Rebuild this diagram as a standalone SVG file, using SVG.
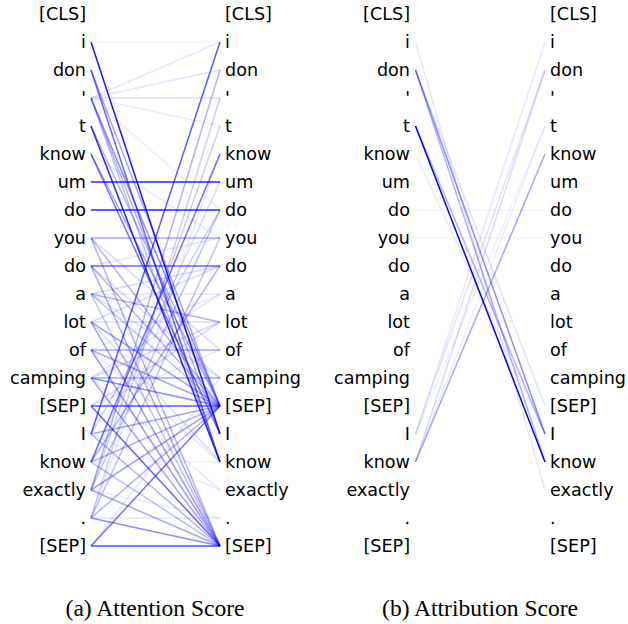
<svg xmlns="http://www.w3.org/2000/svg" width="628" height="624" viewBox="0 0 628 624">
<style>
text.t{font-family:"DejaVu Sans","Noto Sans",sans-serif;font-size:17.6px;fill:#000}
.e{text-anchor:end}
.cap{font-family:"Liberation Serif","Times New Roman",serif;font-size:23.5px;fill:#000;text-anchor:middle}
line{stroke:#0000ff;stroke-width:1.5}
</style>
<rect width="628" height="624" fill="#fff"/>
<g id="connectors-attention">
<line x1="91" y1="42" x2="220" y2="42" stroke-opacity="0.04"/>
<line x1="91" y1="98" x2="220" y2="98" stroke-opacity="0.12"/>
<line x1="91" y1="182" x2="220" y2="182" stroke-opacity="0.85"/>
<line x1="91" y1="210" x2="220" y2="210" stroke-opacity="0.85"/>
<line x1="91" y1="238" x2="220" y2="238" stroke-opacity="0.35"/>
<line x1="91" y1="266" x2="220" y2="266" stroke-opacity="0.6"/>
<line x1="91" y1="294" x2="220" y2="294" stroke-opacity="0.1"/>
<line x1="91" y1="322" x2="220" y2="322" stroke-opacity="0.15"/>
<line x1="91" y1="350" x2="220" y2="350" stroke-opacity="0.35"/>
<line x1="91" y1="378" x2="220" y2="378" stroke-opacity="0.35"/>
<line x1="91" y1="406" x2="220" y2="406" stroke-opacity="0.65"/>
<line x1="91" y1="462" x2="220" y2="462" stroke-opacity="0.05"/>
<line x1="91" y1="518" x2="220" y2="518" stroke-opacity="0.1"/>
<line x1="91" y1="546" x2="220" y2="546" stroke-opacity="0.7"/>
<line x1="91" y1="42" x2="220" y2="434" stroke-opacity="0.9"/>
<line x1="91" y1="70" x2="220" y2="462" stroke-opacity="0.6"/>
<line x1="91" y1="70" x2="220" y2="406" stroke-opacity="0.35"/>
<line x1="91" y1="98" x2="220" y2="406" stroke-opacity="0.45"/>
<line x1="91" y1="98" x2="220" y2="434" stroke-opacity="0.3"/>
<line x1="91" y1="98" x2="220" y2="462" stroke-opacity="0.25"/>
<line x1="91" y1="126" x2="220" y2="462" stroke-opacity="0.85"/>
<line x1="91" y1="126" x2="220" y2="406" stroke-opacity="0.3"/>
<line x1="91" y1="154" x2="220" y2="434" stroke-opacity="0.55"/>
<line x1="91" y1="154" x2="220" y2="406" stroke-opacity="0.35"/>
<line x1="91" y1="98" x2="220" y2="126" stroke-opacity="0.08"/>
<line x1="91" y1="98" x2="220" y2="210" stroke-opacity="0.08"/>
<line x1="91" y1="154" x2="220" y2="238" stroke-opacity="0.08"/>
<line x1="91" y1="238" x2="220" y2="406" stroke-opacity="0.3"/>
<line x1="91" y1="238" x2="220" y2="546" stroke-opacity="0.3"/>
<line x1="91" y1="238" x2="220" y2="350" stroke-opacity="0.15"/>
<line x1="91" y1="266" x2="220" y2="406" stroke-opacity="0.3"/>
<line x1="91" y1="266" x2="220" y2="546" stroke-opacity="0.35"/>
<line x1="91" y1="266" x2="220" y2="378" stroke-opacity="0.15"/>
<line x1="91" y1="294" x2="220" y2="322" stroke-opacity="0.3"/>
<line x1="91" y1="294" x2="220" y2="406" stroke-opacity="0.25"/>
<line x1="91" y1="294" x2="220" y2="546" stroke-opacity="0.25"/>
<line x1="91" y1="294" x2="220" y2="378" stroke-opacity="0.12"/>
<line x1="91" y1="322" x2="220" y2="406" stroke-opacity="0.35"/>
<line x1="91" y1="322" x2="220" y2="546" stroke-opacity="0.4"/>
<line x1="91" y1="322" x2="220" y2="462" stroke-opacity="0.15"/>
<line x1="91" y1="350" x2="220" y2="406" stroke-opacity="0.35"/>
<line x1="91" y1="350" x2="220" y2="546" stroke-opacity="0.4"/>
<line x1="91" y1="350" x2="220" y2="462" stroke-opacity="0.1"/>
<line x1="91" y1="378" x2="220" y2="406" stroke-opacity="0.45"/>
<line x1="91" y1="378" x2="220" y2="546" stroke-opacity="0.35"/>
<line x1="91" y1="378" x2="220" y2="490" stroke-opacity="0.1"/>
<line x1="91" y1="406" x2="220" y2="546" stroke-opacity="0.6"/>
<line x1="91" y1="434" x2="220" y2="546" stroke-opacity="0.3"/>
<line x1="91" y1="434" x2="220" y2="490" stroke-opacity="0.08"/>
<line x1="91" y1="462" x2="220" y2="546" stroke-opacity="0.25"/>
<line x1="91" y1="490" x2="220" y2="546" stroke-opacity="0.35"/>
<line x1="91" y1="518" x2="220" y2="546" stroke-opacity="0.45"/>
<line x1="91" y1="490" x2="220" y2="518" stroke-opacity="0.08"/>
<line x1="91" y1="98" x2="220" y2="42" stroke-opacity="0.1"/>
<line x1="91" y1="98" x2="220" y2="70" stroke-opacity="0.1"/>
<line x1="91" y1="434" x2="220" y2="42" stroke-opacity="0.65"/>
<line x1="91" y1="462" x2="220" y2="154" stroke-opacity="0.55"/>
<line x1="91" y1="490" x2="220" y2="70" stroke-opacity="0.3"/>
<line x1="91" y1="490" x2="220" y2="126" stroke-opacity="0.2"/>
<line x1="91" y1="518" x2="220" y2="98" stroke-opacity="0.2"/>
<line x1="91" y1="518" x2="220" y2="238" stroke-opacity="0.25"/>
<line x1="91" y1="546" x2="220" y2="406" stroke-opacity="0.55"/>
<line x1="91" y1="462" x2="220" y2="406" stroke-opacity="0.3"/>
<line x1="91" y1="490" x2="220" y2="406" stroke-opacity="0.35"/>
<line x1="91" y1="518" x2="220" y2="406" stroke-opacity="0.3"/>
<line x1="91" y1="434" x2="220" y2="406" stroke-opacity="0.35"/>
<line x1="91" y1="462" x2="220" y2="266" stroke-opacity="0.3"/>
<line x1="91" y1="490" x2="220" y2="210" stroke-opacity="0.25"/>
<line x1="91" y1="434" x2="220" y2="210" stroke-opacity="0.2"/>
<line x1="91" y1="546" x2="220" y2="378" stroke-opacity="0.1"/>
<line x1="91" y1="378" x2="220" y2="294" stroke-opacity="0.1"/>
<line x1="91" y1="350" x2="220" y2="294" stroke-opacity="0.08"/>
<line x1="91" y1="406" x2="220" y2="350" stroke-opacity="0.1"/>
<line x1="91" y1="406" x2="220" y2="322" stroke-opacity="0.15"/>
<line x1="91" y1="378" x2="220" y2="322" stroke-opacity="0.15"/>
<line x1="91" y1="322" x2="220" y2="266" stroke-opacity="0.15"/>
<line x1="91" y1="294" x2="220" y2="266" stroke-opacity="0.15"/>
<line x1="91" y1="266" x2="220" y2="238" stroke-opacity="0.1"/>
<line x1="91" y1="462" x2="220" y2="182" stroke-opacity="0.15"/>
<line x1="91" y1="518" x2="220" y2="154" stroke-opacity="0.1"/>
</g>
<g id="connectors-attribution">
<line x1="415.5" y1="126" x2="545" y2="462" stroke-opacity="1"/>
<line x1="415.5" y1="126" x2="545" y2="434" stroke-opacity="0.3"/>
<line x1="415.5" y1="70" x2="545" y2="434" stroke-opacity="0.45"/>
<line x1="415.5" y1="70" x2="545" y2="462" stroke-opacity="0.3"/>
<line x1="415.5" y1="70" x2="545" y2="406" stroke-opacity="0.12"/>
<line x1="415.5" y1="42" x2="545" y2="490" stroke-opacity="0.1"/>
<line x1="415.5" y1="154" x2="545" y2="434" stroke-opacity="0.08"/>
<line x1="415.5" y1="210" x2="545" y2="210" stroke-opacity="0.04"/>
<line x1="415.5" y1="238" x2="545" y2="238" stroke-opacity="0.04"/>
<line x1="415.5" y1="434" x2="545" y2="42" stroke-opacity="0.1"/>
<line x1="415.5" y1="434" x2="545" y2="70" stroke-opacity="0.12"/>
<line x1="415.5" y1="462" x2="545" y2="154" stroke-opacity="0.35"/>
<line x1="415.5" y1="462" x2="545" y2="70" stroke-opacity="0.15"/>
<line x1="415.5" y1="462" x2="545" y2="126" stroke-opacity="0.08"/>
<line x1="415.5" y1="434" x2="545" y2="126" stroke-opacity="0.06"/>
</g>
<g id="a-left">
<g id="a-l0"><text class="t e" x="86" y="20">[CLS]</text></g>
<g id="a-l1"><text class="t e" x="86" y="48">i</text></g>
<g id="a-l2"><text class="t e" x="86" y="76">don</text></g>
<g id="a-l3"><text class="t e" x="86" y="104">'</text></g>
<g id="a-l4"><text class="t e" x="86" y="132">t</text></g>
<g id="a-l5"><text class="t e" x="86" y="160">know</text></g>
<g id="a-l6"><text class="t e" x="86" y="188">um</text></g>
<g id="a-l7"><text class="t e" x="86" y="216">do</text></g>
<g id="a-l8"><text class="t e" x="86" y="244">you</text></g>
<g id="a-l9"><text class="t e" x="86" y="272">do</text></g>
<g id="a-l10"><text class="t e" x="86" y="300">a</text></g>
<g id="a-l11"><text class="t e" x="86" y="328">lot</text></g>
<g id="a-l12"><text class="t e" x="86" y="356">of</text></g>
<g id="a-l13"><text class="t e" x="86" y="384">camping</text></g>
<g id="a-l14"><text class="t e" x="86" y="412">[SEP]</text></g>
<g id="a-l15"><text class="t e" x="86" y="440">I</text></g>
<g id="a-l16"><text class="t e" x="86" y="468">know</text></g>
<g id="a-l17"><text class="t e" x="86" y="496">exactly</text></g>
<g id="a-l18"><text class="t e" x="86" y="524">.</text></g>
<g id="a-l19"><text class="t e" x="86" y="552">[SEP]</text></g>
</g>
<g id="a-right">
<g id="a-r0"><text class="t" x="225" y="20">[CLS]</text></g>
<g id="a-r1"><text class="t" x="225" y="48">i</text></g>
<g id="a-r2"><text class="t" x="225" y="76">don</text></g>
<g id="a-r3"><text class="t" x="225" y="104">'</text></g>
<g id="a-r4"><text class="t" x="225" y="132">t</text></g>
<g id="a-r5"><text class="t" x="225" y="160">know</text></g>
<g id="a-r6"><text class="t" x="225" y="188">um</text></g>
<g id="a-r7"><text class="t" x="225" y="216">do</text></g>
<g id="a-r8"><text class="t" x="225" y="244">you</text></g>
<g id="a-r9"><text class="t" x="225" y="272">do</text></g>
<g id="a-r10"><text class="t" x="225" y="300">a</text></g>
<g id="a-r11"><text class="t" x="225" y="328">lot</text></g>
<g id="a-r12"><text class="t" x="225" y="356">of</text></g>
<g id="a-r13"><text class="t" x="225" y="384">camping</text></g>
<g id="a-r14"><text class="t" x="225" y="412">[SEP]</text></g>
<g id="a-r15"><text class="t" x="225" y="440">I</text></g>
<g id="a-r16"><text class="t" x="225" y="468">know</text></g>
<g id="a-r17"><text class="t" x="225" y="496">exactly</text></g>
<g id="a-r18"><text class="t" x="225" y="524">.</text></g>
<g id="a-r19"><text class="t" x="225" y="552">[SEP]</text></g>
</g>
<g id="b-left">
<g id="b-l0"><text class="t e" x="410" y="20">[CLS]</text></g>
<g id="b-l1"><text class="t e" x="410" y="48">i</text></g>
<g id="b-l2"><text class="t e" x="410" y="76">don</text></g>
<g id="b-l3"><text class="t e" x="410" y="104">'</text></g>
<g id="b-l4"><text class="t e" x="410" y="132">t</text></g>
<g id="b-l5"><text class="t e" x="410" y="160">know</text></g>
<g id="b-l6"><text class="t e" x="410" y="188">um</text></g>
<g id="b-l7"><text class="t e" x="410" y="216">do</text></g>
<g id="b-l8"><text class="t e" x="410" y="244">you</text></g>
<g id="b-l9"><text class="t e" x="410" y="272">do</text></g>
<g id="b-l10"><text class="t e" x="410" y="300">a</text></g>
<g id="b-l11"><text class="t e" x="410" y="328">lot</text></g>
<g id="b-l12"><text class="t e" x="410" y="356">of</text></g>
<g id="b-l13"><text class="t e" x="410" y="384">camping</text></g>
<g id="b-l14"><text class="t e" x="410" y="412">[SEP]</text></g>
<g id="b-l15"><text class="t e" x="410" y="440">I</text></g>
<g id="b-l16"><text class="t e" x="410" y="468">know</text></g>
<g id="b-l17"><text class="t e" x="410" y="496">exactly</text></g>
<g id="b-l18"><text class="t e" x="410" y="524">.</text></g>
<g id="b-l19"><text class="t e" x="410" y="552">[SEP]</text></g>
</g>
<g id="b-right">
<g id="b-r0"><text class="t" x="550" y="20">[CLS]</text></g>
<g id="b-r1"><text class="t" x="550" y="48">i</text></g>
<g id="b-r2"><text class="t" x="550" y="76">don</text></g>
<g id="b-r3"><text class="t" x="550" y="104">'</text></g>
<g id="b-r4"><text class="t" x="550" y="132">t</text></g>
<g id="b-r5"><text class="t" x="550" y="160">know</text></g>
<g id="b-r6"><text class="t" x="550" y="188">um</text></g>
<g id="b-r7"><text class="t" x="550" y="216">do</text></g>
<g id="b-r8"><text class="t" x="550" y="244">you</text></g>
<g id="b-r9"><text class="t" x="550" y="272">do</text></g>
<g id="b-r10"><text class="t" x="550" y="300">a</text></g>
<g id="b-r11"><text class="t" x="550" y="328">lot</text></g>
<g id="b-r12"><text class="t" x="550" y="356">of</text></g>
<g id="b-r13"><text class="t" x="550" y="384">camping</text></g>
<g id="b-r14"><text class="t" x="550" y="412">[SEP]</text></g>
<g id="b-r15"><text class="t" x="550" y="440">I</text></g>
<g id="b-r16"><text class="t" x="550" y="468">know</text></g>
<g id="b-r17"><text class="t" x="550" y="496">exactly</text></g>
<g id="b-r18"><text class="t" x="550" y="524">.</text></g>
<g id="b-r19"><text class="t" x="550" y="552">[SEP]</text></g>
</g>
<g id="captions">
<text class="cap" x="155" y="616">(a) Attention Score</text>
<text class="cap" x="480" y="616">(b) Attribution Score</text>
</g>
</svg>
